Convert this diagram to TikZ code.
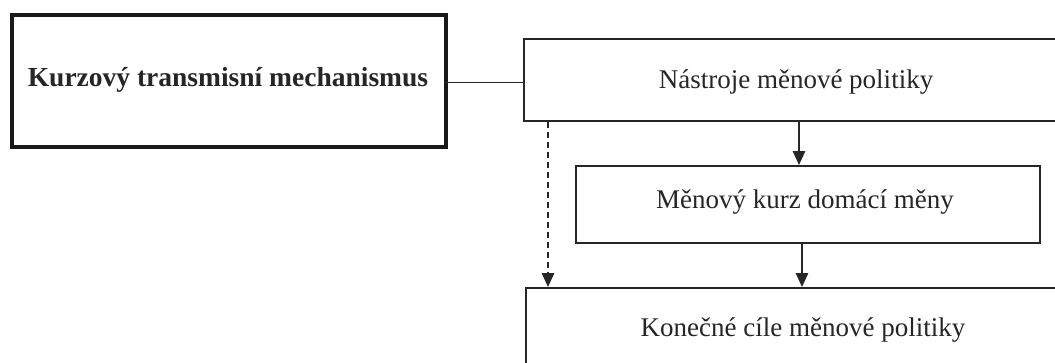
\documentclass[tikz,border=0pt]{standalone}
\usepackage{fontspec}
\setmainfont{Liberation Serif}
\usetikzlibrary{arrows.meta}
\begin{document}
\begin{tikzpicture}[x=1pt,y=-1pt,
  box/.style={draw=black!85, line width=1.6pt, fill=white, inner sep=0pt, anchor=north west},
  thick box/.style={draw=black!90, line width=4pt, fill=white, inner sep=0pt, anchor=north west},
  lbl/.style={font=\fontsize{27}{30}\selectfont, text=black!85, inner sep=0pt},
  arr/.style={draw=black!85, line width=1.4pt, -{Triangle[width=12.5pt,length=14pt]}},
  link/.style={draw=black!85, line width=1.4pt}]
\useasboundingbox (0,0) rectangle (1055,362);
\fill[white] (0,0) rectangle (1055,362);
% boxes
\node[thick box, minimum width=434pt, minimum height=132pt] (L) at (10,13) {};
\node[box, minimum width=560pt, minimum height=82pt] (T) at (523,38) {};
\node[box, minimum width=464pt, minimum height=77pt] (M) at (575,165) {};
\node[box, minimum width=560pt, minimum height=120pt] (B) at (525,287) {};
% texts
\node[lbl, font=\fontsize{27.5}{30}\selectfont\bfseries] (Lt) at (228,80) {Kurzový transmisní mechanismus};
\node[lbl] (Tt) at (796,82) {Nástroje měnové politiky};
\node[lbl] (Mt) at (805,202) {Měnový kurz domácí měny};
\node[lbl] (Bt) at (803,330) {Konečné cíle měnové politiky};
% connectors
\coordinate (c1) at (444,82.5);
\draw[link] (c1) -- (c1 -| T.west);
\draw[arr] (T.south -| 799,0) -- (M.north -| 799,0);
\draw[arr] (M.south -| 802,0) -- (B.north -| 802,0);
\draw[arr, dash pattern=on 6pt off 4pt] (T.south -| 548,0) -- (B.north -| 548,0);
\end{tikzpicture}
\end{document}
